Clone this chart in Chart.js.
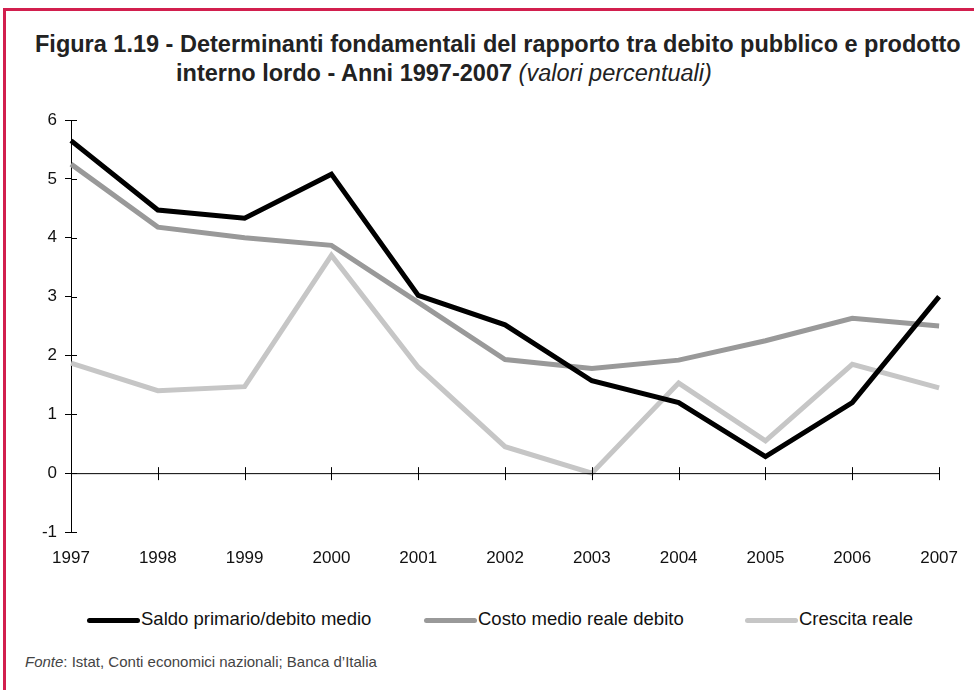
<!DOCTYPE html>
<html>
<head>
<meta charset="utf-8">
<script src="https://cdn.jsdelivr.net/npm/chart.js@4"></script>
<style>
  body { margin: 0; background: #fff; font-family: "Liberation Sans", Arial, sans-serif; }
  #page { position: relative; width: 974px; height: 690px; overflow: hidden; }
  #topLine { position: absolute; left: 3px; top: 8px; width: 971px; height: 3px; background: #d21f4e; }
  #leftLine { position: absolute; left: 3px; top: 8px; width: 3px; height: 682px; background: #d21f4e; }
  .title { position: absolute; font-size: 23.5px; font-weight: bold; color: #222; white-space: nowrap; }
  .title i { font-weight: normal; }
  #chartBox { position: absolute; left: 0; top: 100px; width: 974px; height: 480px; }
  #legend { position: absolute; top: 608px; left: 0; width: 974px; height: 24px; font-size: 18.5px; color: #111; }
  .item { position: absolute; top: 0; white-space: nowrap; }
  .item span.sample { display: inline-block; width: 53px; height: 5px; border-radius: 3px; vertical-align: middle; margin-right: 1px; }
  #source { position: absolute; left: 25px; top: 653px; font-size: 15px; color: #444; }
</style>
</head>
<body>
<div id="page">
  <div id="topLine"></div>
  <div id="leftLine"></div>
  <div class="title" style="left:35px; top:31px;">Figura 1.19 - Determinanti fondamentali del rapporto tra debito pubblico e prodotto</div>
  <div class="title" style="left:176px; top:60px;">interno lordo - Anni 1997-2007 <i>(valori percentuali)</i></div>
  <div id="chartBox"><canvas id="chart"></canvas></div>
  <div id="legend"></div>
  <div id="source"><i>Fonte</i>: Istat, Conti economici nazionali; Banca d’Italia</div>
</div>
<script>
const years = ['1997', '1998', '1999', '2000', '2001', '2002', '2003', '2004', '2005', '2006', '2007'];
const saldoPrimario = [5.65, 4.47, 4.33, 5.08, 3.02, 2.52, 1.57, 1.2, 0.28, 1.2, 3.0];
const costoMedio = [5.25, 4.18, 4.0, 3.87, 2.9, 1.93, 1.78, 1.92, 2.25, 2.63, 2.5];
const crescitaReale = [1.87, 1.4, 1.47, 3.7, 1.8, 0.45, 0.0, 1.53, 0.55, 1.85, 1.45];
const seriesNames = ['Saldo primario/debito medio', 'Costo medio reale debito', 'Crescita reale'];
const seriesColors = ['#000000', '#999999', '#c6c6c6'];
const legendLeft = [87, 424, 745];

// zero line and crossing tick marks
const axisMarks = {
    id: 'axisMarks',
    afterDatasetsDraw(chart) {
        const ctx = chart.ctx;
        const x = chart.scales.x;
        const y = chart.scales.y;
        const y0 = y.getPixelForValue(0);
        ctx.save();
        ctx.strokeStyle = '#000';
        ctx.lineWidth = 1;
        ctx.beginPath();
        ctx.moveTo(x.left, y0 + 0.5);
        ctx.lineTo(x.right, y0 + 0.5);
        years.forEach((yr, i) => {
            const px = Math.round(x.getPixelForValue(i)) + 0.5;
            ctx.moveTo(px, y0 - 6);
            ctx.lineTo(px, y0 + 7);
        });
        y.ticks.forEach(t => {
            const py = Math.round(y.getPixelForValue(t.value)) + 0.5;
            ctx.moveTo(x.left, py);
            ctx.lineTo(x.left + 6, py);
        });
        ctx.stroke();
        ctx.restore();
    }
};

new Chart(document.getElementById('chart'), {
    type: 'line',
    data: {
        labels: years,
        datasets: [
            { label: seriesNames[0], data: saldoPrimario, borderColor: seriesColors[0] },
            { label: seriesNames[1], data: costoMedio, borderColor: seriesColors[1] },
            { label: seriesNames[2], data: crescitaReale, borderColor: seriesColors[2] }
        ]
    },
    options: {
        responsive: true,
        maintainAspectRatio: false,
        animation: false,
        layout: { padding: { top: 20, right: 34, bottom: 0, left: 0 } },
        elements: {
            line: { borderWidth: 5, tension: 0, borderJoinStyle: 'miter', fill: false },
            point: { radius: 0 }
        },
        plugins: { legend: { display: false }, tooltip: { enabled: false } },
        scales: {
            x: {
                offset: false,
                grid: { display: false, drawTicks: false },
                border: { display: false },
                ticks: { color: '#111', padding: 16, maxRotation: 0, font: { family: 'Liberation Sans', size: 17 } },
                afterFit: s => { s.height = 48; }
            },
            y: {
                min: -1,
                max: 6,
                ticks: { stepSize: 1, color: '#111', padding: 8, font: { family: 'Liberation Sans', size: 17 } },
                grid: { drawOnChartArea: false, tickLength: 6, color: '#000' },
                border: { display: true, color: '#000', width: 1 },
                afterFit: s => { s.width = 71; }
            }
        }
    },
    plugins: [axisMarks]
});

const legend = document.getElementById('legend');
seriesNames.forEach((name, i) => {
    const item = document.createElement('div');
    item.className = 'item';
    item.style.left = legendLeft[i] + 'px';
    item.innerHTML = '<span class="sample" style="background:' + seriesColors[i] + '"></span>' + name;
    legend.appendChild(item);
});
</script>
</body>
</html>
